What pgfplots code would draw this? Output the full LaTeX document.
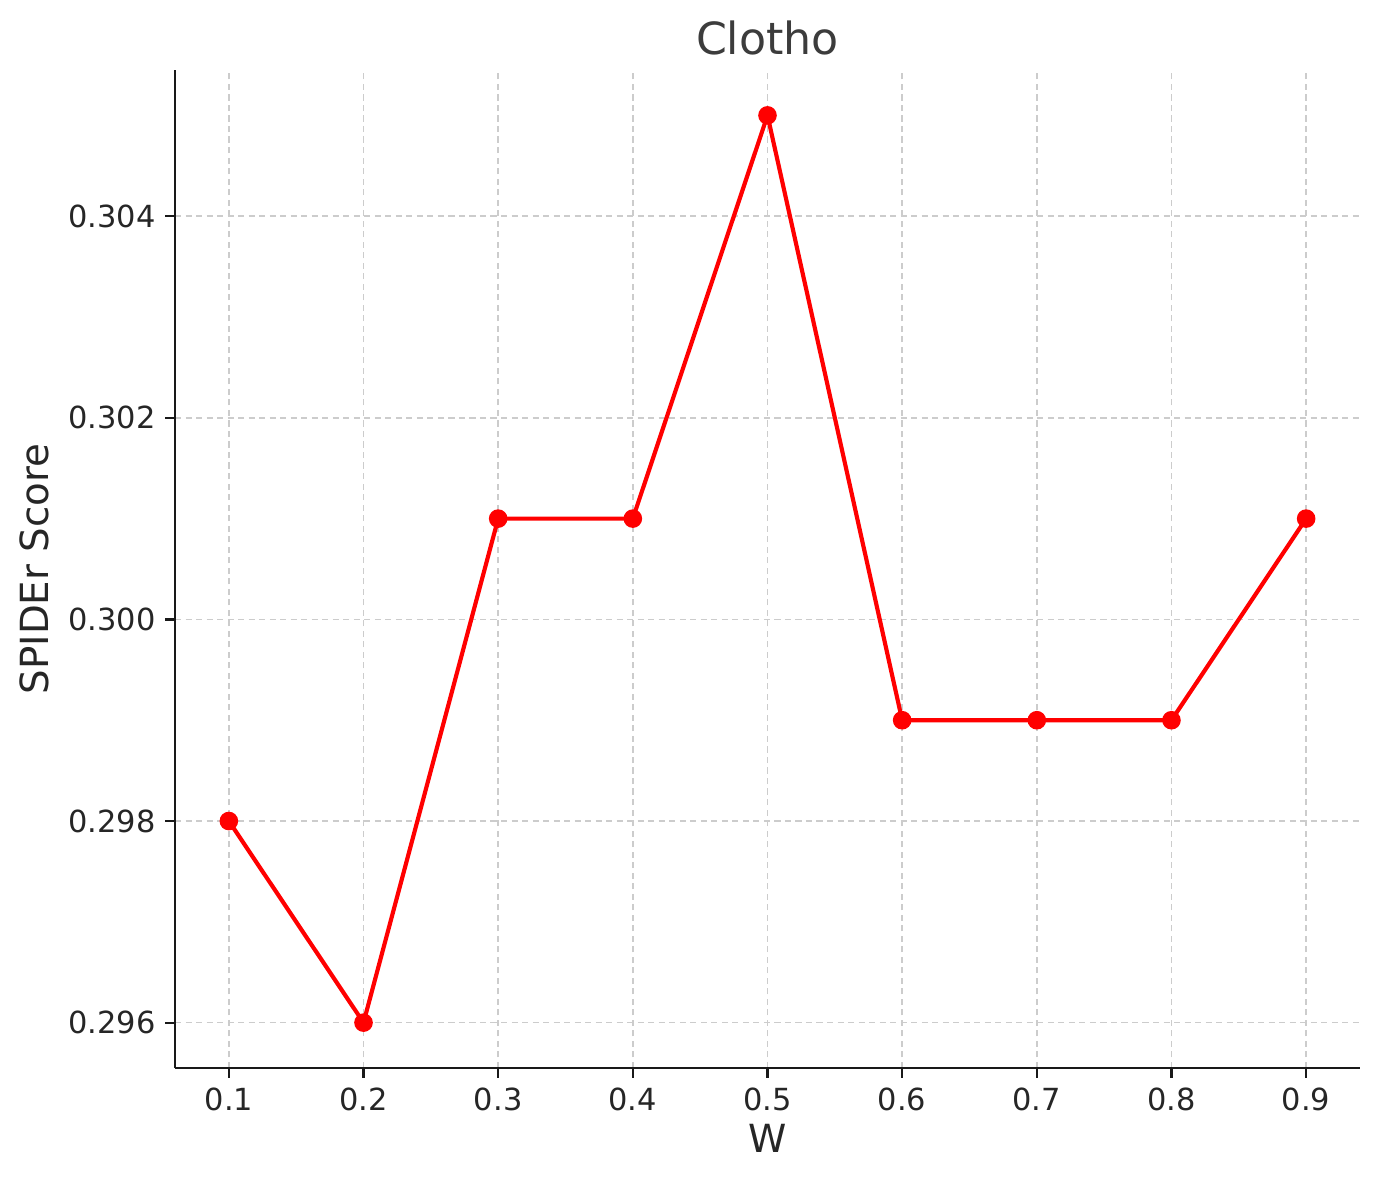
\documentclass[border=0pt]{standalone}
\usepackage{fontspec}
\setmainfont{DejaVu Sans}
\usepackage{pgfplots}
\pgfplotsset{compat=1.18}
\definecolor{gridc}{HTML}{CCCCCC}
\definecolor{txt}{HTML}{262626}
\begin{document}
\begin{tikzpicture}
\useasboundingbox (-0.875in,-0.56in) rectangle (6.025in,5.34in);
\begin{axis}[
  at={(0,0)}, anchor=south west,
  scale only axis,
  width=5.925in, height=4.99in,
  xmin=0.06, xmax=0.94,
  ymin=0.29555, ymax=0.30545,
  axis x line*=bottom, axis y line*=left,
  axis line style={-, line width=0.8pt, black!90},
  xtick={0.1,0.2,...,0.9},
  ytick={0.296,0.298,0.300,0.302,0.304},
  xticklabel style={/pgf/number format/.cd, fixed, fixed zerofill, precision=1},
  yticklabel style={/pgf/number format/.cd, fixed, fixed zerofill, precision=3},
  scaled y ticks=false,
  /pgf/number format/assume math mode=true,
  tick align=outside,
  major tick length=3.5pt,
  tick style={line width=0.8pt, black!90},
  ticklabel style={font=\fontsize{11}{13}\selectfont, text=txt},
  grid=major,
  major grid style={gridc, line width=0.6pt, dash pattern=on 2.2pt off 1.6pt},
  xlabel={W}, ylabel={SPIDEr Score},
  label style={font=\fontsize{14}{16}\selectfont, text=txt},
  title={Clotho},
  title style={font=\fontsize{16}{18}\selectfont, text=txt!90, yshift=-4pt},
  xlabel style={yshift=2pt},
  ylabel style={yshift=0pt},
]
\addplot[red, line width=1.5pt, mark=*, mark size=2.6pt, mark options={solid, fill=red}]
coordinates {
(0.1,0.298) (0.2,0.296) (0.3,0.301) (0.4,0.301) (0.5,0.305)
(0.6,0.299) (0.7,0.299) (0.8,0.299) (0.9,0.301)
};
\end{axis}
\end{tikzpicture}
\end{document}
